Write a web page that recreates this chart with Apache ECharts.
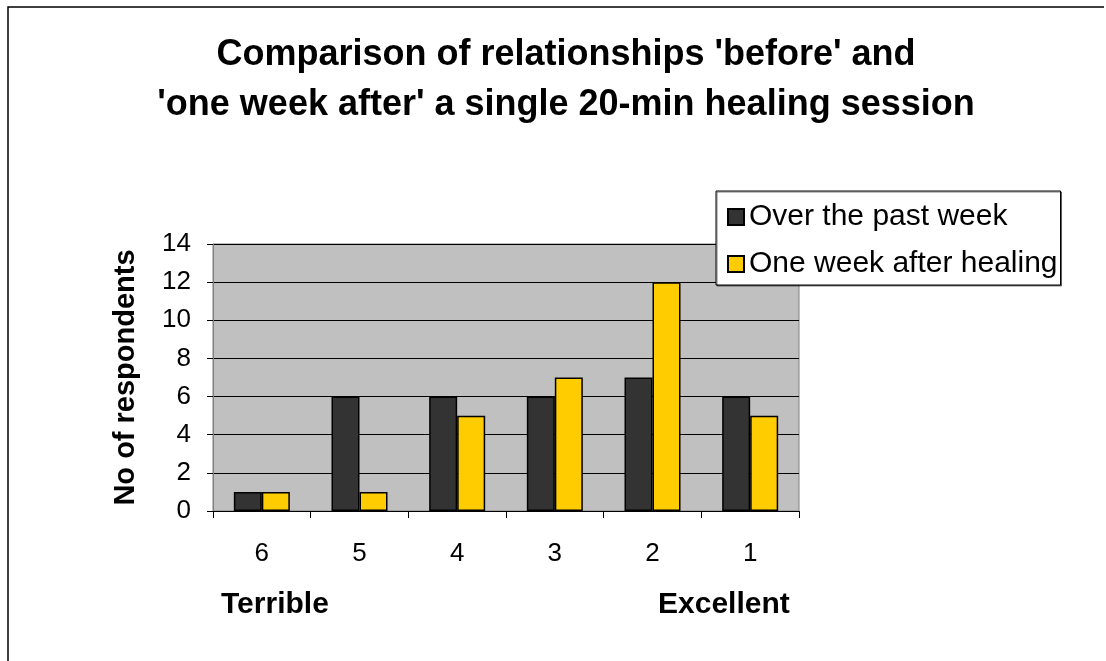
<!DOCTYPE html>
<html>
<head>
<meta charset="utf-8">
<script src="https://cdn.jsdelivr.net/npm/echarts@6/dist/echarts.min.js"></script>
<style>
  html, body { margin: 0; padding: 0; background: #fff; }
  #main { width: 1106px; height: 661px; }
</style>
</head>
<body>
<div id="main"></div>
<script>
// rating scale, 6 = terrible ... 1 = excellent
var categories = ['6', '5', '4', '3', '2', '1'];
var pastWeek = [1, 6, 6, 6, 7, 6];
var afterHealing = [1, 1, 5, 7, 12, 5];
var yTicks = { min: 0, max: 14, interval: 2 };

var chart = echarts.init(document.getElementById('main'));
var font = '"Liberation Sans", Arial, sans-serif';

chart.setOption({
  backgroundColor: '#fff',
  animation: false,
  textStyle: { fontFamily: font },
  title: {
    text: "Comparison of relationships 'before' and\n'one week after' a single 20-min healing session",
    left: 561,
    top: 25,
    textAlign: 'center',
    textStyle: { fontSize: 36, fontWeight: 'bold', color: '#000', lineHeight: 50, fontFamily: font }
  },
  legend: {
    orient: 'vertical',
    left: 716,
    top: 191,
    padding: [11, 3, 6, 11],
    itemGap: 17,
    itemWidth: 16,
    itemHeight: 16,
    itemTextGap: 12,
    icon: 'rect',
    backgroundColor: '#fff',
    borderColor: '#000',
    borderWidth: 1,
    shadowColor: 'rgba(0,0,0,0.5)',
    shadowOffsetX: 1,
    shadowOffsetY: 1,
    textStyle: { fontSize: 30, color: '#000', fontFamily: font },
    data: ['Over the past week', 'One week after healing']
  },
  grid: {
    left: 213, top: 244, width: 586, height: 267,
    show: true, backgroundColor: '#c0c0c0', borderColor: '#808080', borderWidth: 1
  },
  xAxis: {
    type: 'category',
    data: categories,
    axisLine: { lineStyle: { color: '#000', width: 1 } },
    axisTick: { show: true, length: 7, lineStyle: { color: '#000' } },
    axisLabel: { fontSize: 26, color: '#000', margin: 30 }
  },
  yAxis: {
    type: 'value',
    min: yTicks.min, max: yTicks.max, interval: yTicks.interval,
    name: 'No of respondents',
    nameLocation: 'middle',
    nameGap: 73,
    nameRotate: 90,
    nameTextStyle: { fontSize: 29, fontWeight: 'bold', color: '#000' },
    axisLine: { show: true, lineStyle: { color: '#808080' } },
    axisTick: { show: true, length: 6, lineStyle: { color: '#000' } },
    axisLabel: { fontSize: 26, color: '#000', margin: 22 },
    splitLine: { show: true, lineStyle: { color: '#000', width: 1 } }
  },
  series: [
    {
      name: 'Over the past week',
      type: 'bar',
      data: pastWeek,
      barWidth: 28,
      barGap: '0%',
      itemStyle: { color: '#333333', borderColor: '#000', borderWidth: 1.5 }
    },
    {
      name: 'One week after healing',
      type: 'bar',
      data: afterHealing,
      barWidth: 28,
      barGap: '0%',
      itemStyle: { color: '#ffcc00', borderColor: '#000', borderWidth: 1.5 }
    }
  ],
  graphic: [
    {
      type: 'polyline',
      shape: { points: [[8, 670], [8, 7], [1104, 7]] },
      style: { stroke: '#000', lineWidth: 1.5, fill: null }
    },
    {
      type: 'text', left: 221, top: 590,
      style: { text: 'Terrible', fontSize: 30, fontWeight: 'bold', fill: '#000', fontFamily: font }
    },
    {
      type: 'text', left: 658, top: 590,
      style: { text: 'Excellent', fontSize: 30, fontWeight: 'bold', fill: '#000', fontFamily: font }
    }
  ]
});
</script>
</body>
</html>
